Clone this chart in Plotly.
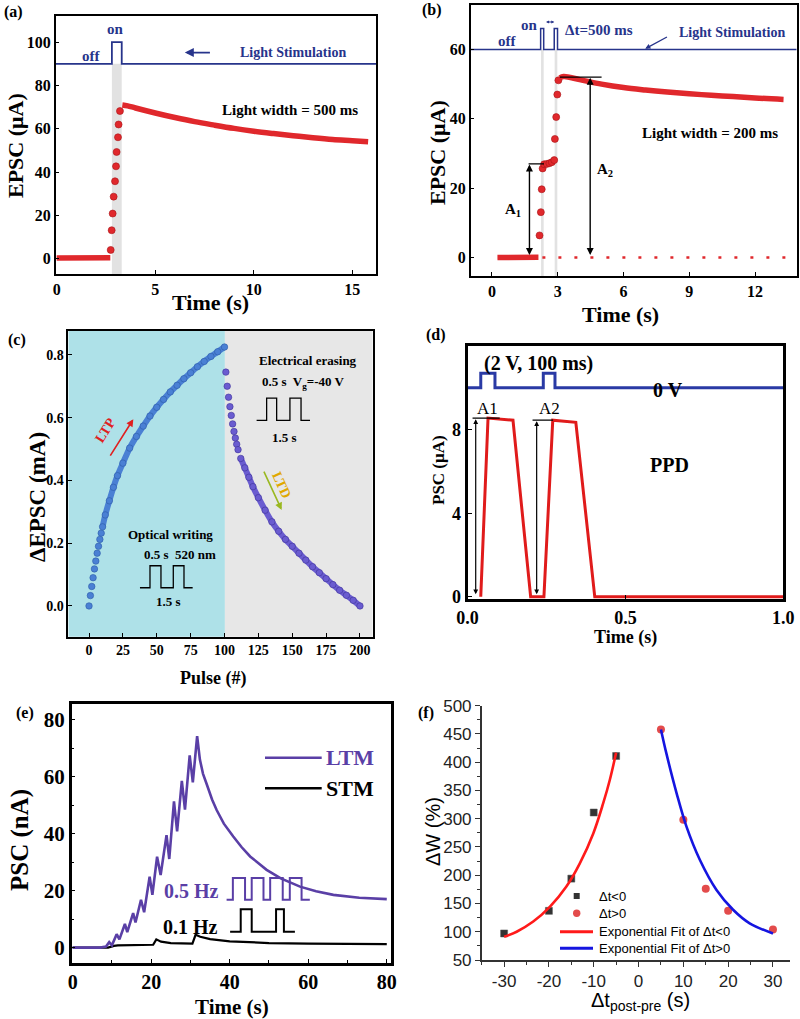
import plotly.graph_objects as go

W, H = 800, 1019
SERIF = "Liberation Serif"
SANS = "Liberation Sans"
NAVY = "#27348b"
RED = "#e0282c"
PURPLE = "#5a3fa6"

# ---------------- data ----------------
# (a) single light pulse, 500 ms
a_base_t = [0.0, 0.5, 1.0, 1.5, 2.0, 2.5, 2.72]
a_base_v = [0.4, 0.4, 0.4, 0.4, 0.5, 0.5, 0.5]
a_rise_t = [2.74, 2.79, 2.84, 2.89, 2.96, 3.01, 3.04, 3.11, 3.14, 3.21]
a_rise_v = [4.1, 13.2, 20.9, 28.7, 35.8, 42.7, 49.3, 56.1, 62.0, 68.2]
a_decay_t = [3.33, 3.6, 4, 5, 6, 7, 8, 9, 10, 11, 12, 13, 14, 15, 15.8]
a_decay_v = [71.0, 70.6, 69.6, 67.3, 65.2, 63.3, 61.7, 60.2, 58.9, 57.8, 56.8, 55.9, 55.1, 54.5, 54.0]
a_stim_t = [-0.1, 2.8, 2.8, 3.3, 3.3, 16.2]
a_stim_v = [90, 90, 100, 100, 90, 90]

# (b) paired light pulses, 200 ms, dt = 500 ms
b_base_t = [0.25, 0.6, 1.0, 1.4, 1.8, 2.12]
b_base_v = [0, 0, 0, 0, 0, 0.1]
b_rise_t = [2.17, 2.23, 2.27, 2.31, 2.38, 2.5, 2.62, 2.73, 2.84, 2.87, 2.93, 2.98, 3.03]
b_rise_v = [6.4, 13.1, 19.7, 25.7, 26.9, 27.0, 27.2, 27.5, 28.1, 34.2, 40.5, 47.0, 51.1]
b_decay_t = [3.1, 3.27, 4, 5, 6, 7, 8, 9, 10, 11, 12, 13.3]
b_decay_v = [51.8, 52.2, 51.3, 50.0, 49.0, 48.3, 47.7, 47.2, 46.8, 46.4, 46.0, 45.6]
b_stim_t = [-0.97, 2.22, 2.22, 2.36, 2.36, 2.84, 2.84, 2.99, 2.99, 13.9]
b_stim_v = [60, 60, 66, 66, 60, 60, 66, 66, 60, 60]

# (c) LTP / LTD
ltp_n = [0, 1, 2, 3, 4, 5, 6, 7, 8, 9, 10, 12, 15, 18, 21, 25, 30, 35, 40, 45,
         50, 55, 60, 65, 70, 75, 80, 85, 90, 95, 100]
ltp_v = [0.0, 0.033, 0.062, 0.09, 0.118, 0.143, 0.168, 0.19, 0.212, 0.232, 0.252,
         0.29, 0.335, 0.378, 0.415, 0.455, 0.503, 0.54, 0.573, 0.605, 0.633, 0.658,
         0.682, 0.703, 0.724, 0.743, 0.762, 0.779, 0.795, 0.81, 0.825]
ltd_n = [101, 102, 103, 104, 105, 106, 107, 108, 109, 110, 112, 115, 118, 121, 125,
         130, 135, 140, 145, 150, 155, 160, 165, 170, 175, 180, 185, 190, 195, 200]
ltd_v = [0.745, 0.70, 0.665, 0.635, 0.607, 0.58, 0.556, 0.535, 0.515, 0.498, 0.47,
         0.44, 0.41, 0.38, 0.345, 0.305, 0.268, 0.238, 0.212, 0.19, 0.168, 0.146,
         0.125, 0.106, 0.087, 0.068, 0.05, 0.034, 0.018, 0.0]

# (d) PPD
d_t = [0.042, 0.065, 0.144, 0.2, 0.242, 0.27, 0.343, 0.403, 1.0]
d_v = [0, 8.55, 8.45, 0, 0, 8.45, 8.35, 0, 0]
d_stim_t = [0, 0.042, 0.042, 0.087, 0.087, 0.24, 0.24, 0.277, 0.277, 1.0]
d_stim_v = [10, 10, 10.7, 10.7, 10, 10, 10.7, 10.7, 10, 10]

# (e) LTM / STM
ltm_t = [0, 7, 8.5, 9.3, 10.0, 11.2, 11.9, 13.3, 13.9, 15.4, 16.0, 17.4, 18.2, 19.6,
         20.3, 21.5, 22.4, 23.9, 24.6, 25.8, 26.6, 27.8, 28.6, 29.8, 30.6, 31.7, 32.4,
         33.2, 34.1, 35.5, 36.7, 38.5, 40.9, 43, 45.2, 47.5, 49.4, 53, 57.9, 62,
         66.4, 73, 80]
ltm_v = [0, 0, 0.4, 1.9, 0.8, 4.7, 2.9, 8.3, 5.4, 12.1, 8.8, 16.8, 12.4, 24.9, 18.5,
         31.9, 25.5, 39.5, 31.1, 51.3, 40.8, 58.5, 48.4, 67.5, 58, 74.2, 66, 61, 57.5,
         52, 48.2, 43.5, 39, 35.3, 32, 29.3, 27.3, 24.3, 21.4, 19.8, 18.5, 17.5, 17]
stm_t = [0, 9, 10.5, 11.5, 20.5, 21.3, 22.5, 25, 30.5, 31.3, 32.5, 35, 40, 50, 60, 70, 80]
stm_v = [0, 0, 0.6, 0.8, 1.0, 2.9, 2.1, 1.6, 1.4, 4.5, 3.8, 3.0, 2.2, 1.6, 1.4, 1.3, 1.2]

# (f) STDP
neg_dt = [-30, -20, -15, -10, -5]
neg_dw = [97, 137, 194, 311, 411]
pos_dt = [5, 10, 15, 20, 30]
pos_dw = [458, 298, 176, 137, 104]
fitneg_x = [-30, -27.2, -23.5, -19.8, -16.1, -13.1, -10.1, -7.9, -6.4, -5]
fitneg_y = [91, 100, 118, 144, 180, 221, 274, 327, 369, 417]
fitpos_x = [5, 6.2, 8.5, 10.7, 13.7, 17.4, 21.1, 24.8, 30]
fitpos_y = [458, 416, 345, 286, 227, 174, 139, 115, 97]
f_xticks = [-30, -20, -10, 0, 10, 20, 30]
f_xlabels = ["-30", "-20", "-10", "0", "10", "20", "30"]

# ---------------- helpers ----------------
annotations, shapes = [], []


def px_x(p):
    return p / W


def px_y(p):
    return 1 - p / H


def fnt(size, color="black", bold=True, family=SERIF):
    return dict(family=family, size=size, color=color, weight="bold" if bold else "normal")


def pann(text, x, y, size, color="black", bold=True, family=SERIF, angle=0,
         xanchor="center", yanchor="middle"):
    annotations.append(dict(text=text, x=px_x(x), y=px_y(y), xref="paper", yref="paper",
                            showarrow=False, font=fnt(size, color, bold, family),
                            textangle=angle, xanchor=xanchor, yanchor=yanchor))


def dann(text, ax, x, y, size, color="black", bold=True, family=SERIF, angle=0,
         xanchor="center", yanchor="middle"):
    annotations.append(dict(text=text, x=x, y=y, xref="x" + ax, yref="y" + ax,
                            showarrow=False, font=fnt(size, color, bold, family),
                            textangle=angle, xanchor=xanchor, yanchor=yanchor))


def arrow(ax, x0, y0, x1, y1, color="black", width=1.5, head=2, both=False, size=1.0):
    xr, yr = "x" + ax, "y" + ax
    annotations.append(dict(text="", x=x1, y=y1, ax=x0, ay=y0, xref=xr, yref=yr,
                            axref=xr, ayref=yr, showarrow=True, arrowhead=head,
                            arrowsize=size, arrowwidth=width, arrowcolor=color,
                            startarrowhead=head, startarrowsize=size,
                            arrowside="end+start" if both else "end"))


def dline(ax, x0, y0, x1, y1, color="black", width=1.5, dash="solid"):
    shapes.append(dict(type="line", xref="x" + ax, yref="y" + ax, x0=x0, y0=y0, x1=x1,
                       y1=y1, line=dict(color=color, width=width, dash=dash)))


def pline(x0, y0, x1, y1, color, width):
    shapes.append(dict(type="line", xref="paper", yref="paper", x0=px_x(x0), y0=px_y(y0),
                       x1=px_x(x1), y1=px_y(y1), line=dict(color=color, width=width)))


def wave(ax, xs, lo, hi, color, width):
    pts = [(xs[0], lo)]
    level = lo
    for t in xs[1:-1]:
        pts.append((t, level))
        level = hi if level == lo else lo
        pts.append((t, level))
    pts.append((xs[-1], level))
    path = "M " + " L ".join(f"{x},{y}" for x, y in pts)
    shapes.append(dict(type="path", xref="x" + ax, yref="y" + ax, path=path,
                       line=dict(color=color, width=width)))


fig = go.Figure()


def sc(ax, x, y, **kw):
    fig.add_trace(go.Scatter(x=x, y=y, xaxis="x" + ax, yaxis="y" + ax,
                             showlegend=False, hoverinfo="skip", **kw))


dot = dict(color=RED, size=7, line=dict(color="#a81418", width=0.6))

# ---- (a)
shapes.append(dict(type="rect", xref="x", yref="y", x0=2.8, x1=3.3, y0=-7, y1=90,
                   fillcolor="#e2e2e2", line=dict(width=0), layer="below"))
sc("", a_stim_t, a_stim_v, mode="lines", line=dict(color=NAVY, width=1.8))
sc("", a_base_t, a_base_v, mode="lines", line=dict(color=RED, width=5.5))
sc("", a_rise_t, a_rise_v, mode="markers", marker=dot)
sc("", a_decay_t, a_decay_v, mode="lines", line=dict(color=RED, width=5.5, shape="spline"))
dann("off", "", 1.76, 93.6, 15, NAVY)
dann("on", "", 3.0, 106, 15, NAVY)
dann("Light Stimulation", "", 11.98, 95.2, 14, NAVY)
arrow("", 7.85, 95.2, 6.5, 95.2, NAVY, 1.8, head=2, size=1.0)
dann("Light width = 500 ms", "", 11.86, 68.8, 15)

# ---- (b)
for x0, x1 in [(2.24, 2.36), (2.86, 2.98)]:
    shapes.append(dict(type="rect", xref="x2", yref="y2", x0=x0, x1=x1, y0=-5.3, y1=60,
                       fillcolor="#e2e2e2", line=dict(width=0), layer="below"))
sc("2", b_stim_t, b_stim_v, mode="lines", line=dict(color=NAVY, width=1.5))
dline("2", 2.3, 0, 13.9, 0, RED, 2.5, dash="3px,13px")
sc("2", b_base_t, b_base_v, mode="lines", line=dict(color=RED, width=5.5))
sc("2", b_rise_t, b_rise_v, mode="markers", marker=dot)
sc("2", b_decay_t, b_decay_v, mode="lines", line=dict(color=RED, width=5.5, shape="spline"))
dann("off", "2", 0.68, 62.3, 15, NAVY)
dann("on", "2", 1.72, 67.0, 15, NAVY)
dann("Δt=500 ms", "2", 4.9, 65.6, 15, NAVY)
dann("Light Stimulation", "2", 10.94, 65.0, 14, NAVY)
arrow("2", 2.4, 67.9, 2.84, 67.9, NAVY, 1.0, head=2, both=True, size=0.6)
arrow("2", 8.05, 63.8, 6.99, 60.2, NAVY, 1.3, head=2, size=0.8)
dann("Light width = 200 ms", "2", 9.95, 35.9, 15)
dline("2", 1.67, 27, 2.37, 27, "black", 1.4)
arrow("2", 1.71, 0.3, 1.71, 26.8, "black", 1.4, head=2, both=True, size=1.0)
dline("2", 3.1, 52, 5.0, 52, "black", 1.4)
arrow("2", 4.48, 0.3, 4.48, 51.8, "black", 1.4, head=2, both=True, size=1.0)
dann("A<sub>1</sub>", "2", 0.98, 13.7, 15)
dann("A<sub>2</sub>", "2", 5.16, 25.2, 15)

# ---- (c)
shapes.append(dict(type="rect", xref="x3", yref="y3 domain", x0=-15.3, x1=100.3, y0=0,
                   y1=1, fillcolor="#aee1e8", line=dict(width=0), layer="below"))
shapes.append(dict(type="rect", xref="x3", yref="y3 domain", x0=100.3, x1=209.4, y0=0,
                   y1=1, fillcolor="#e7e7e7", line=dict(width=0), layer="below"))
LTPC, LTDC = "#4a80d4", "#6a5cd0"
sc("3", ltp_n[10:], ltp_v[10:], mode="lines", line=dict(color=LTPC, width=6, shape="spline"))
sc("3", ltp_n, ltp_v, mode="markers",
   marker=dict(color=LTPC, size=6.5, line=dict(color="#2c5aa8", width=0.6)))
sc("3", ltd_n[10:], ltd_v[10:], mode="lines", line=dict(color=LTDC, width=6, shape="spline"))
sc("3", ltd_n, ltd_v, mode="markers",
   marker=dict(color=LTDC, size=6.5, line=dict(color="#3e3298", width=0.6)))
arrow("3", 15, 0.474, 32.7, 0.595, "#e02020", 1.6, head=2, size=0.9)
dann("LTP", "3", 11.8, 0.56, 14, "#e02020", angle=-58)
arrow("3", 128.6, 0.433, 142.2, 0.306, "#9ab820", 1.6, head=2, size=0.9)
dann("LTD", "3", 142.5, 0.385, 14, "#e0a800", angle=65)
dann("Electrical erasing", "3", 161.8, 0.781, 13)
dann("0.5 s  V<sub>g</sub>=-40 V", "3", 158, 0.712, 13)
wave("3", [123.7, 131.1, 138.5, 148.3, 156.5, 163.1], 0.591, 0.662, "black", 1.3)
dann("1.5 s", "3", 144.6, 0.538, 13)
dann("Optical writing", "3", 59.8, 0.229, 13)
dann("0.5 s  520 nm", "3", 67.2, 0.163, 13)
wave("3", [37.6, 45, 53.1, 62.2, 70.1, 76.5], 0.058, 0.128, "black", 1.3)
dann("1.5 s", "3", 58.5, 0.014, 13)

# ---- (d)
sc("4", d_stim_t, d_stim_v, mode="lines", line=dict(color="#2a3aa5", width=3))
sc("4", d_t, d_v, mode="lines", line=dict(color="#e01b1b", width=3))
dann("(2 V, 100 ms)", "4", 0.224, 11.17, 20)
dann("0 V", "4", 0.636, 9.9, 20)
dann("PPD", "4", 0.641, 6.3, 20)
dann("A1", "4", 0.063, 9.0, 17, bold=False)
dann("A2", "4", 0.26, 9.0, 17, bold=False)
dline("4", 0.016, 8.55, 0.102, 8.55, "black", 1.2)
arrow("4", 0.026, 0.05, 0.026, 8.5, "black", 1.2, head=2, both=True, size=0.8)
dline("4", 0.206, 8.45, 0.271, 8.45, "black", 1.2)
arrow("4", 0.219, 0.05, 0.219, 8.4, "black", 1.2, head=2, both=True, size=0.8)

# ---- (e)
sc("5", stm_t, stm_v, mode="lines", line=dict(color="black", width=2.2))
sc("5", ltm_t, ltm_v, mode="lines", line=dict(color=PURPLE, width=2.6))
dann("0.5 Hz", "5", 30.3, 19.7, 20, PURPLE)
wave("5", [39.2, 40.8, 43.9, 45.6, 48.6, 50.3, 53.5, 55.3, 58.3, 60.4], 16.8, 24.4, PURPLE, 2)
dann("0.1 Hz", "5", 29.9, 7.4, 20)
wave("5", [40.1, 42.8, 45.6, 51.8, 53.8, 56.6], 5.6, 13.5, "black", 2)
pline(265, 757.7, 321.7, 757.7, PURPLE, 2.6)
pann("LTM", 324, 757.7, 22, PURPLE, xanchor="left")
pline(265, 788.3, 321.7, 788.3, "black", 2.4)
pann("STM", 324, 788.3, 22, xanchor="left")

# ---- (f)
sc("6", neg_dt, neg_dw, mode="markers",
   marker=dict(symbol="square", color="#333333", size=7, line=dict(color="#555", width=0.5)))
sc("6", pos_dt, pos_dw, mode="markers", marker=dict(color="#e34b4b", size=8))
sc("6", fitneg_x, fitneg_y, mode="lines", line=dict(color="#ff1a1a", width=2.6, shape="spline"))
sc("6", fitpos_x, fitpos_y, mode="lines", line=dict(color="#1515e0", width=2.6, shape="spline"))
shapes.append(dict(type="rect", xref="paper", yref="paper", x0=px_x(573.7), x1=px_x(579.7),
                   y0=px_y(899), y1=px_y(893), fillcolor="#333333", line=dict(width=0)))
shapes.append(dict(type="circle", xref="paper", yref="paper", x0=px_x(573), x1=px_x(580.4),
                   y0=px_y(917), y1=px_y(909.6), fillcolor="#e34b4b", line=dict(width=0)))
pann("Δt&lt;0", 596.7, 896, 13, bold=False, family=SANS, xanchor="left")
pann("Δt&gt;0", 596.7, 913.3, 13, bold=False, family=SANS, xanchor="left")
pline(560, 931.7, 593, 931.7, "#ff1a1a", 3)
pline(560, 948.3, 593, 948.3, "#1515e0", 3)
pann("Exponential Fit of Δt&lt;0", 596.7, 931.7, 13, bold=False, family=SANS, xanchor="left")
pann("Exponential Fit of Δt&gt;0", 596.7, 948.3, 13, bold=False, family=SANS, xanchor="left")

# ---- axis titles & panel labels
pann("EPSC (μA)", 15, 146, 22, angle=-90)
pann("Time (s)", 210, 302, 22)
pann("EPSC (μA)", 437, 153, 22, angle=-90)
pann("Time (s)", 620, 314, 22)
pann("ΔEPSC (mA)", 37, 497, 23, angle=-90)
pann("Pulse (#)", 213, 678, 18)
pann("PSC (μA)", 438, 470, 17, angle=-90)
pann("Time (s)", 625, 637, 18)
pann("PSC (nA)", 20, 840, 25, angle=-90)
pann("Time (s)", 232, 1007, 21)
pann("ΔW (%)", 433, 832, 20, bold=False, family=SANS, angle=-90)
pann("Δt<sub>post-pre</sub> (s)", 640, 1001, 20, bold=False, family=SANS)
for lab, x, y in [("(a)", 13, 12), ("(b)", 432, 10), ("(c)", 17, 340),
                  ("(d)", 436, 335), ("(e)", 25, 713), ("(f)", 426, 713)]:
    pann(lab, x, y, 16)


def frame_axis(domain, rng, anchor, size, lw=1.5, **kw):
    d = dict(domain=domain, range=rng, anchor=anchor, showline=True, mirror=True,
             linecolor="black", linewidth=lw, ticks="inside", ticklen=4, tickwidth=1.2,
             tickcolor="black", showgrid=False, zeroline=False, automargin=False,
             tickfont=fnt(size))
    d.update(kw)
    return d


lay = dict(width=W, height=H, margin=dict(l=0, r=0, t=0, b=0, pad=0, autoexpand=False),
           paper_bgcolor="white", plot_bgcolor="white", showlegend=False)

lay["xaxis"] = frame_axis([55.7 / W, 376 / W], [-0.05, 16.2], "y", 16, tickvals=[0, 5, 10, 15])
lay["yaxis"] = frame_axis([px_y(274), px_y(15.7)], [-7, 112.2], "x", 16,
                          tickvals=[0, 20, 40, 60, 80, 100])
lay["xaxis2"] = frame_axis([470.7 / W, 796.7 / W], [-0.97, 13.9], "y2", 16,
                           tickvals=[0, 3, 6, 9, 12])
lay["yaxis2"] = frame_axis([px_y(276), px_y(5)], [-5.3, 72.8], "x2", 16,
                           tickvals=[0, 20, 40, 60])
lay["xaxis3"] = frame_axis([68.3 / W, 372.7 / W], [-15.3, 209.4], "y3", 14,
                           tickvals=[0, 25, 50, 75, 100, 125, 150, 175, 200])
lay["yaxis3"] = frame_axis([px_y(636.7), px_y(331)], [-0.098, 0.876], "x3", 14,
                           tickvals=[0, 0.2, 0.4, 0.6, 0.8], tickformat=".1f")
lay["xaxis4"] = frame_axis([467.5 / W, 783.3 / W], [0, 1.0], "y4", 18, lw=3,
                           tickvals=[0, 0.5, 1.0], tickformat=".1f")
lay["yaxis4"] = frame_axis([px_y(599.3), px_y(346)], [-0.12, 12], "x4", 18, lw=3,
                           tickvals=[0, 4, 8])
lay["xaxis5"] = frame_axis([71.7 / W, 390.7 / W], [-0.25, 81], "y5", 20, lw=2.5,
                           tickvals=[0, 20, 40, 60, 80],
                           minor=dict(ticks="inside", ticklen=3, dtick=10, tickcolor="black"))
lay["yaxis5"] = frame_axis([px_y(962.7), px_y(704.3)], [-5.3, 85.4], "x5", 21, lw=2.5,
                           tickvals=[0, 20, 40, 60, 80],
                           minor=dict(ticks="inside", ticklen=3, dtick=10, tickcolor="black"))
lay["xaxis6"] = dict(domain=[481.7 / W, 790 / W], range=[-35, 33.8], anchor="y6",
                     showline=True, mirror=False, linecolor="#333", linewidth=1.5,
                     ticks="outside", ticklen=5, tickwidth=1.2, tickcolor="#333",
                     showgrid=False, zeroline=False, automargin=False,
                     tickvals=f_xticks, ticktext=f_xlabels,
                     tickfont=fnt(17, "#222", False, SANS),
                     minor=dict(ticks="outside", ticklen=3, dtick=5, tickcolor="#333"))
lay["yaxis6"] = dict(domain=[px_y(960), px_y(705.7)], range=[50, 500], anchor="x6",
                     showline=True, mirror=False, linecolor="#333", linewidth=1.5,
                     ticks="outside", ticklen=5, tickwidth=1.2, tickcolor="#333",
                     showgrid=False, zeroline=False, automargin=False,
                     tickvals=[50, 100, 150, 200, 250, 300, 350, 400, 450, 500],
                     tickfont=fnt(17, "#222", False, SANS),
                     minor=dict(ticks="outside", ticklen=3, dtick=25, tickcolor="#333"))

lay["annotations"] = annotations
lay["shapes"] = shapes
fig.update_layout(**lay)
fig.write_html("out.html",
               config={"displayModeBar": False},
               post_script="document.body.style.margin='0px';"
                           "document.body.style.overflow='hidden';")
